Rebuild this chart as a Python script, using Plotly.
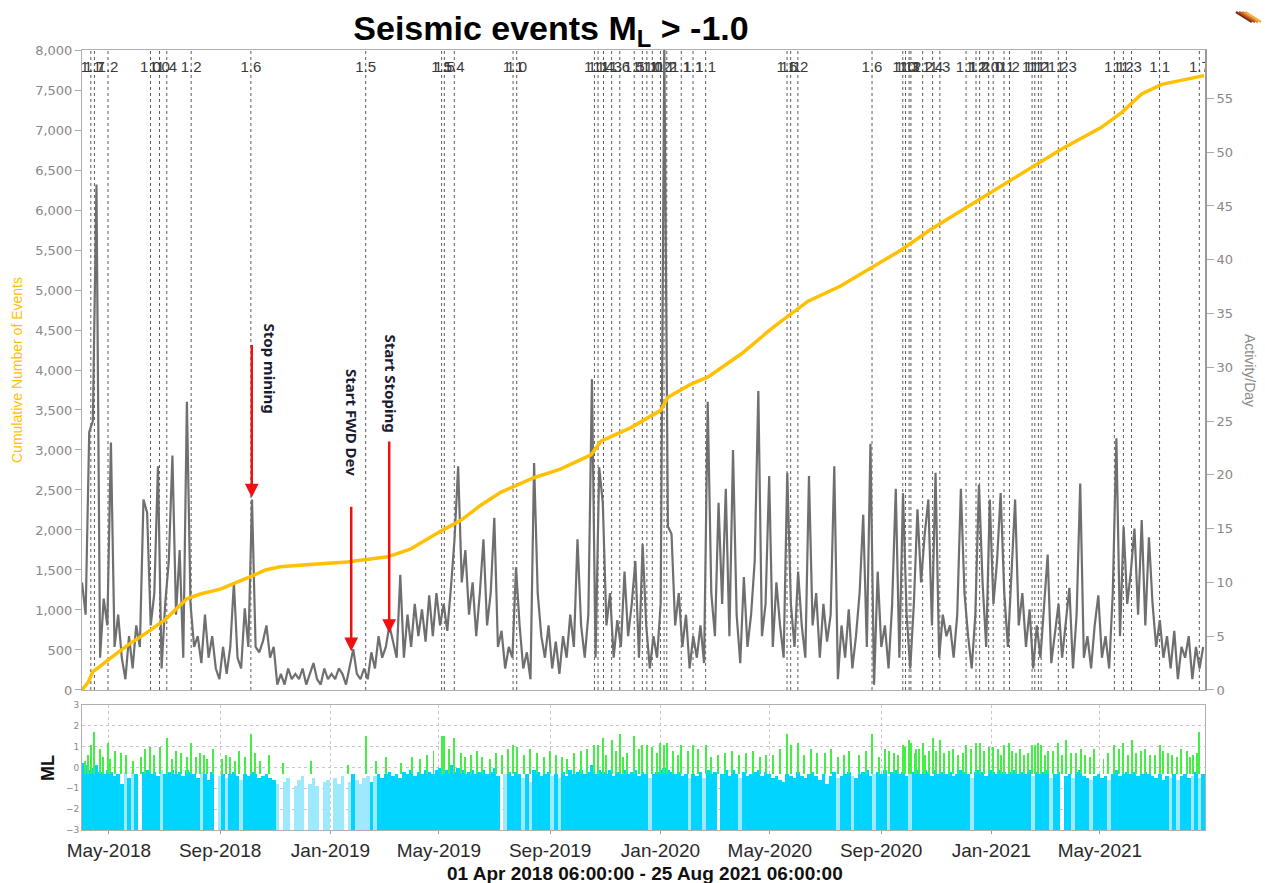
import pandas as pd
import plotly.graph_objects as go

START = "2018-04-01 06:00"
END = "2021-08-25 06:00"
STEP_DAYS = 4

# Activity per day (4-day samples from start)
activity = [
    10, 7, 24, 25, 47, 3, 8.5, 6, 23, 4,
    7, 3, 1, 5, 2, 6, 4, 17.7, 16.5, 6,
    9, 20.8, 2, 8, 12, 21.8, 7, 13, 3, 26.8,
    8, 4, 5, 2.5, 7, 3, 5, 2, 1, 4,
    1.5, 4, 10, 3, 2, 7.6, 4, 17.7, 4, 3.5,
    4.5, 6, 3, 4, 0.5, 1.5, 0.5, 2, 1, 1.5,
    1, 2, 0.5, 1.5, 2.5, 1, 0.5, 2, 1, 1.5,
    1, 2, 1.5, 0.5, 2, 3.8, 1.5, 1, 2, 1,
    3.5, 2, 5, 3, 4, 6, 4.5, 3, 10.7, 3,
    7, 4, 8, 5, 7.5, 4.5, 8.8, 5, 9, 6,
    8, 5.5, 9.5, 14, 20.8, 10, 13, 7, 10, 5,
    9, 14, 6, 9, 16, 4, 5.5, 2, 4, 3,
    11.4, 6, 2, 3.5, 1, 21.1, 9, 5, 3, 6,
    2, 4.5, 1.5, 5, 3, 7, 4, 14, 6, 3,
    7, 28.9, 3, 20.7, 17.4, 6, 9, 3, 6.5, 4,
    11, 5, 8, 12, 3, 13.6, 6, 2, 5, 3,
    8, 60, 15.2, 14.5, 6, 9, 4, 7, 2, 5,
    3, 6, 2.5, 26.8, 9, 5, 17.4, 8, 18.7, 5,
    22.3, 7, 2.5, 10.5, 4, 7, 12, 27.8, 5, 8,
    19.9, 4, 10, 6, 3, 20.2, 8, 4, 11, 6,
    3, 19.9, 6, 9, 3, 8, 4.5, 7, 20.8, 1,
    6, 3, 7.5, 2, 5, 9, 16.3, 4, 22.9, 0.5,
    11, 4, 6, 2, 8, 18.7, 3, 18.3, 7, 2,
    8, 16.8, 10, 14.5, 17.7, 6, 20.2, 3, 7, 5,
    6, 3, 7, 18.7, 9, 5, 2, 7, 19.1, 10,
    4, 17.7, 8, 12, 18.3, 9, 4, 11, 17.7, 6,
    9, 4, 7.5, 2, 6, 3, 8, 12.6, 2.5, 5,
    8, 3, 6, 9.5, 2, 7, 19.2, 3, 5, 2,
    6, 8.8, 3, 5, 2, 9, 23.4, 5, 15.2, 8,
    11, 15, 7, 15.8, 6, 14.2, 8, 4, 6.5, 3,
    5, 2, 5.5, 1, 4, 3, 5, 1, 4, 2, 4,
]

# Upper level of the dense (cyan) ML band per 4-day bin (-3 = no events)
cyan_top = [
    0.2, 0.1, -0.1, 0.0, 0.1, -0.2, -0.3, -0.1, -0.2, -0.4,
    -0.3, -0.8, -0.2, -0.5, -0.1, -0.3, -3, -0.2, -0.1, -0.3,
    -0.2, -0.4, -0.1, -0.3, -0.2, -0.1, -0.3, -0.2, -0.4, -0.1,
    -0.2, -0.3, -0.5, -0.2, -0.3, -0.6, -0.2, -3, -0.4, -0.3,
    -0.5, -0.3, -0.2, -0.4, -0.6, -0.3, -0.4, -0.2, -0.3, -0.5,
    -0.4, -0.3, -0.5, -0.6, -0.8, -3, -0.7, -0.5, -3, -0.9,
    -0.6, -0.4, -3, -0.8, -0.5, -0.9, -3, -0.7, -0.6, -3,
    -0.5, -0.8, -0.4, -3, -0.7, -0.3, -0.6, -0.8, -0.5, -0.4,
    -0.7, -0.4, -0.3, -0.5, -0.3, -0.2, -0.4, -0.3, -0.5, -0.2,
    -0.3, -0.1, -0.4, -0.2, -0.3, -0.1, -0.2, -0.3, -0.1, 0.0,
    -0.2, -0.1, 0.1, -0.2, 0.0, -0.1, -0.3, -0.2, -0.1, -0.3,
    -0.2, -0.1, -0.3, -0.2, 0.0, -0.4, -3, -0.3, -0.2, -0.4,
    -0.2, -0.3, -0.5, -0.3, -0.7, -0.1, -0.2, -0.4, -0.3, -0.2,
    -0.4, -0.3, -0.5, -0.2, -0.4, -0.1, -0.3, -0.2, -0.1, -0.3,
    -0.2, 0.1, -0.3, -0.1, -0.2, -0.3, -0.1, -0.4, -0.2, -0.3,
    -0.1, -0.3, -0.2, -0.1, -0.4, -0.2, -0.3, -0.5, -0.3, -0.2,
    -0.1, 0.0, -0.1, -0.2, -0.3, -0.2, -0.4, -0.3, -0.5, -0.3,
    -0.4, -0.2, -0.5, -0.1, -0.3, -0.2, -3, -0.3, -0.1, -0.4,
    -0.1, -0.3, -0.5, -0.2, -0.4, -0.3, -0.2, -0.1, -0.4, -0.2,
    -0.3, -0.5, -0.4, -0.6, -0.7, -0.3, -0.4, -0.5, -0.2, -0.4,
    -0.5, -0.3, -0.2, -0.4, -0.6, -0.3, -0.8, -0.4, -0.2, -0.5,
    -0.4, -0.3, -0.2, -0.4, -0.5, -0.3, -0.2, -0.1, -0.4, -0.3,
    -0.2, -0.3, -0.1, -0.4, -0.2, -0.1, -0.3, -0.2, -0.4, -0.3,
    -0.2, -0.1, -0.3, -0.1, -0.2, -0.4, -0.1, -0.3, -0.2, -0.3,
    -0.2, -0.4, -0.3, -0.1, -0.2, -0.3, -0.5, -0.2, -0.1, -0.2,
    -0.4, -0.1, -0.2, -0.3, -0.1, -0.2, -0.3, -0.2, -0.1, -0.3,
    -0.2, -0.3, -0.1, -0.4, -0.2, -0.3, -0.2, -0.1, -0.5, -0.3,
    -0.2, -3, -0.4, -0.3, -0.5, -0.2, -0.1, -0.4, -0.5, -0.6,
    -0.4, -0.3, -0.5, -0.4, -0.6, -0.3, -0.1, -0.4, -0.3, -0.2,
    -0.3, -0.2, -0.4, -0.3, -0.2, -0.3, -0.4, -0.5, -0.3, -0.6,
    -0.4, -0.5, -0.3, -0.6, -0.4, -0.3, -0.5, -0.4, -0.2, -0.5, -0.3,
]

# Cumulative number of events (days since start, count)
cum_days = [0, 7, 12, 17, 34, 53, 72, 92, 116, 131, 153, 175, 189, 203, 219, 252,
            293, 338, 363, 396, 419, 441, 463, 499, 529, 563, 574, 607, 640, 648,
            673, 692, 729, 765, 803, 839, 873, 906, 939, 972, 1017, 1050, 1083,
            1127, 1150, 1172, 1194, 1241]
cum_values = [0, 100, 230, 270, 420, 580, 720, 880, 1140, 1200, 1260, 1360, 1430,
              1500, 1540, 1570, 1600, 1665, 1760, 1980, 2120, 2310, 2470, 2650,
              2760, 2940, 3110, 3280, 3495, 3660, 3820, 3910, 4200, 4540, 4860,
              5050, 5280, 5500, 5760, 5990, 6310, 6540, 6760, 7030, 7220, 7450,
              7570, 7680]

# Large events (ML >= 1.0) marked at the top
big_dates = ["2018-04-11", "2018-04-15", "2018-04-30", "2018-06-16", "2018-06-26",
             "2018-07-04", "2018-07-31", "2018-10-05", "2019-02-09", "2019-05-04",
             "2019-05-07", "2019-05-18", "2019-07-22", "2019-07-26", "2019-10-20",
             "2019-10-24", "2019-10-30", "2019-11-08", "2019-11-17", "2019-12-03",
             "2019-12-12", "2019-12-17", "2019-12-23", "2020-01-01", "2020-01-05",
             "2020-01-08", "2020-01-24", "2020-02-06", "2020-02-20", "2020-05-20",
             "2020-05-24", "2020-06-01", "2020-08-22", "2020-09-25", "2020-09-28",
             "2020-10-02", "2020-10-04", "2020-10-17", "2020-10-28", "2020-11-05",
             "2020-12-04", "2020-12-15", "2020-12-19", "2020-12-29", "2021-01-03",
             "2021-01-15", "2021-01-21", "2021-02-15", "2021-02-18", "2021-02-22",
             "2021-02-25", "2021-03-16", "2021-03-25", "2021-05-17", "2021-05-27",
             "2021-06-05", "2021-07-06", "2021-08-19"]
big_ml = [1.1, 1.7, 1.2, 1.0, 1.0, 1.4, 1.2, 1.6, 1.5, 1.5,
          1.5, 1.4, 1.1, 1.0, 1.1, 1.1, 1.4, 1.3, 1.6, 1.5,
          1.1, 1.1, 1.0, 1.2, 1.1, 1.2, 1.1, 1.1, 1.1, 1.6,
          1.1, 1.2, 1.6, 1.1, 1.0, 1.3, 1.2, 1.2, 1.4, 1.3,
          1.1, 1.2, 1.2, 1.0, 1.0, 1.1, 1.2, 1.1, 1.1, 1.2,
          1.1, 1.2, 1.3, 1.1, 1.2, 1.3, 1.1, 1.7]

# Medium events (green tips in the ML panel)
mid_dates = ["2018-04-05", "2018-04-21", "2018-04-25", "2018-05-08", "2018-05-20",
             "2018-05-28", "2018-06-05", "2018-06-10", "2018-07-10", "2018-07-20",
             "2018-08-05", "2018-08-14", "2018-08-24", "2018-09-03", "2018-09-12",
             "2018-09-22", "2018-10-15", "2018-10-25", "2018-11-10", "2018-12-10",
             "2019-01-20", "2019-03-03", "2019-03-20", "2019-04-10", "2019-04-25",
             "2019-05-25", "2019-06-05", "2019-06-18", "2019-07-03", "2019-08-10",
             "2019-08-25", "2019-09-08", "2019-09-20", "2019-10-05", "2019-11-25",
             "2019-12-08", "2020-01-15", "2020-02-12", "2020-03-05", "2020-03-20",
             "2020-04-05", "2020-04-20", "2020-05-05", "2020-06-15", "2020-07-01",
             "2020-07-15", "2020-07-28", "2020-08-08", "2020-09-05", "2020-09-15",
             "2020-10-10", "2020-10-24", "2020-11-15", "2020-11-25", "2020-12-09",
             "2021-01-08", "2021-01-28", "2021-02-06", "2021-03-05", "2021-04-05",
             "2021-04-15", "2021-04-25", "2021-05-05", "2021-06-15", "2021-06-25",
             "2021-07-15", "2021-07-25", "2021-08-05", "2021-08-12",
             "2018-04-08", "2018-05-02", "2018-05-14", "2018-06-20", "2018-07-14",
             "2018-07-26", "2018-08-10", "2018-08-18", "2018-09-07", "2018-09-17",
             "2018-09-28", "2018-10-10", "2019-02-20", "2019-04-01", "2019-04-18",
             "2019-05-12", "2019-05-30", "2019-06-12", "2019-06-26", "2019-07-10",
             "2019-07-16", "2019-08-03", "2019-08-17", "2019-09-01", "2019-09-14",
             "2019-09-27", "2019-10-12", "2019-11-02", "2019-11-13", "2019-11-21",
             "2019-12-28", "2020-01-20", "2020-02-01", "2020-02-26", "2020-03-12",
             "2020-03-28", "2020-04-12", "2020-04-27", "2020-05-12", "2020-06-08",
             "2020-06-22", "2020-07-08", "2020-07-22", "2020-08-15", "2020-08-30",
             "2020-09-10", "2020-09-20", "2020-10-08", "2020-10-13", "2020-10-20",
             "2020-11-01", "2020-11-10", "2020-11-20", "2020-12-01", "2020-12-24",
             "2021-01-12", "2021-01-24", "2021-02-02", "2021-02-11", "2021-03-01",
             "2021-03-10", "2021-03-20", "2021-03-30", "2021-04-10", "2021-04-20",
             "2021-05-10", "2021-05-22", "2021-06-01", "2021-06-10", "2021-06-20",
             "2021-07-01", "2021-07-10", "2021-07-20", "2021-07-30", "2021-08-09",
             "2021-08-16"]
mid_ml = [0.3, 0.9, 0.5, 0.8, 0.6, 0.3, 0.5, 0.9, 0.4, 0.7,
          0.5, 0.6, 0.9, 0.4, 0.5, 0.8, 0.3, 0.6, 0.2, 0.3,
          0.1, 0.5, 0.2, 0.4, 0.8, 0.7, 0.6, 0.5, 0.7, 0.9,
          0.5, 0.6, 0.4, 0.8, 0.7, 0.9, 0.8, 0.9, 0.6, 0.8,
          0.7, 0.5, 0.6, 0.9, 0.7, 0.5, 0.8, 0.6, 0.9, 0.7,
          0.9, 0.8, 0.8, 0.6, 0.9, 0.9, 0.7, 0.6, 0.8, 0.7,
          0.6, 0.9, 0.4, 0.8, 0.6, 0.7, 0.5, 0.8, 0.6,
          0.6, 0.4, 0.7, 0.6, 0.8, 0.5, 0.7, 0.4, 0.6, 0.3,
          0.5, 0.7, 0.3, 0.5, 0.6, 0.9, 0.5, 0.8, 0.4, 0.6,
          0.9, 0.6, 0.7, 0.8, 0.5, 0.7, 0.9, 0.6, 0.8, 0.5,
          0.7, 0.6, 0.8, 0.5, 0.7, 0.6, 0.8, 0.6, 0.9, 0.6,
          0.7, 0.9, 0.6, 0.8, 0.5, 0.8, 0.6, 0.7, 0.9, 0.6,
          0.8, 0.7, 0.9, 0.7, 0.8, 0.6, 0.8, 0.9, 0.7, 0.6,
          0.8, 0.6, 0.7, 0.9, 0.5, 0.7, 0.9, 0.6, 0.7, 0.9,
          0.6, 0.8, 0.6, 0.9, 0.5, 0.7]

# Annotated operational changes
note_labels = ["Stop mining", "Start FWD Dev", "Start Stoping"]
note_tip_dates = ["2018-10-06", "2019-01-24", "2019-03-07"]
note_tip_values = [17.9, 3.6, 5.3]
note_tail_px = [-154, -146, -193]
note_text_dates = ["2018-10-26", "2019-01-25", "2019-03-09"]
note_text_values = [29.9, 24.9, 28.5]

ACT_MAX = 59.5
LABEL_Y = 57.8

t0 = pd.Timestamp(START)
grid = [t0 + pd.Timedelta(days=STEP_DAYS * i) for i in range(len(activity))]
cum_x = [t0 + pd.Timedelta(days=d) for d in cum_days]

fig = go.Figure()

# event lines
ev_x, ev_y = [], []
for d in big_dates:
    ev_x += [d, d, None]
    ev_y += [0, ACT_MAX, None]
fig.add_trace(go.Scatter(x=ev_x, y=ev_y, mode="lines", xaxis="x", yaxis="y",
                         line=dict(color="rgba(50,50,50,0.8)", width=1, dash="dot"),
                         hoverinfo="skip", showlegend=False))
fig.add_trace(go.Scatter(x=big_dates, y=[LABEL_Y] * len(big_dates), mode="text",
                         text=[f"{m:.1f}" for m in big_ml], xaxis="x", yaxis="y",
                         textfont=dict(family="Liberation Sans", size=15, color="#3a3a3a"),
                         cliponaxis=True, showlegend=False))
# activity per day
fig.add_trace(go.Scatter(x=grid, y=activity, mode="lines", xaxis="x", yaxis="y",
                         line=dict(color="#6f6f6f", width=2.2), showlegend=False))
# cumulative
fig.add_trace(go.Scatter(x=cum_x, y=cum_values, mode="lines", xaxis="x", yaxis="y2",
                         line=dict(color="#FFC000", width=3.5), showlegend=False))

# ML panel
cyan_colors = ["#9fe9ff" if a < 3 else "#00d4ff" for a in activity]
fig.add_trace(go.Bar(x=grid, y=[c + 3 for c in cyan_top], base=-3, xaxis="x2", yaxis="y3",
                     width=STEP_DAYS * 86400000, marker=dict(color=cyan_colors, line=dict(width=0)),
                     showlegend=False))
g_dates = mid_dates + big_dates
g_ml = mid_ml + big_ml
fig.add_trace(go.Bar(x=g_dates, y=[m + 0.3 for m in g_ml], base=-0.3, xaxis="x2", yaxis="y3",
                     width=1.1 * 86400000, marker=dict(color="#44ee44", line=dict(width=0)),
                     showlegend=False))

annotations = []
for lab, td, tv, tail, xd, xv in zip(note_labels, note_tip_dates, note_tip_values,
                                     note_tail_px, note_text_dates, note_text_values):
    annotations.append(dict(x=td, y=tv, xref="x", yref="y", text="", showarrow=True,
                            ax=0, ay=tail, arrowhead=2, arrowsize=1.1, arrowwidth=2.5,
                            arrowcolor="#ee1111"))
    annotations.append(dict(x=xd, y=xv, xref="x", yref="y", text=f"<b>{lab}</b>",
                            showarrow=False, textangle=90,
                            font=dict(family="Noto Sans", size=15, color="#1c1c30")))

pixel_texts = [
    dict(x=17, y=370, text="Cumulative Number of Events", textangle=-90,
         font=dict(family="Liberation Sans", size=14, color="#FFC000")),
    dict(x=1250, y=370, text="Activity/Day", textangle=90,
         font=dict(family="Liberation Sans", size=14, color="#8a8a8a")),
    dict(x=48, y=768, text="<b>ML</b>", textangle=-90,
         font=dict(family="Liberation Sans", size=18, color="#111")),
    dict(x=645, y=873, text="<b>01 Apr 2018 06:00:00 - 25 Aug 2021 06:00:00</b>",
         textangle=0, font=dict(family="Liberation Sans", size=19, color="#111")),
]
L, R, T, B = 82, 60, 50, 53
W, H = 1265, 883
pw, ph = W - L - R, H - T - B
for a in pixel_texts:
    annotations.append(dict(x=(a["x"] - L) / pw, y=(H - B - a["y"]) / ph,
                            xref="paper", yref="paper", xanchor="center", yanchor="middle",
                            text=a["text"], textangle=a["textangle"], font=a["font"],
                            showarrow=False))

tickfont_y = dict(family="DejaVu Sans", size=13, color="#888888")
fig.update_layout(
    width=W, height=H,
    margin=dict(l=L, r=R, t=T, b=B),
    paper_bgcolor="white", plot_bgcolor="white",
    barmode="overlay", bargap=0,
    title=dict(text="<b>Seismic events M<sub>L</sub> > -1.0</b>",
               x=551 / W, xanchor="center", xref="container",
               y=1 - 28 / H, yanchor="middle", yref="container",
               font=dict(family="Liberation Sans", size=34, color="#000")),
    xaxis=dict(domain=[0, 1], anchor="y", type="date", range=[START, END],
               showticklabels=False, showgrid=False, showline=True, mirror=True,
               linecolor="#b0b0b0", linewidth=1, ticks=""),
    yaxis=dict(domain=[0.1795, 1], anchor="x", side="right", range=[0, ACT_MAX],
               dtick=5, tick0=0, showgrid=False, zeroline=False, showline=True,
               linecolor="#9a9a9a", linewidth=2, ticks="outside", ticklen=7,
               tickcolor="#aaa", tickfont=tickfont_y),
    yaxis2=dict(overlaying="y", side="left", anchor="x", range=[0, 8000], dtick=500,
                tickformat=",", showgrid=False, zeroline=False, showline=True,
                linecolor="#b0b0b0", linewidth=1, ticks="outside", ticklen=6,
                tickcolor="#aaa", tickfont=tickfont_y),
    xaxis2=dict(domain=[0, 1], anchor="y3", type="date", range=[START, END],
                tick0="2018-01-01", dtick="M4", tickformat="%b-%Y",
                showgrid=True, gridcolor="#c8c8c8", griddash="dot", gridwidth=1,
                showline=True, mirror=True, linecolor="#b0b0b0", ticks="outside",
                ticklen=3, tickcolor="#999",
                tickfont=dict(family="Liberation Sans", size=19, color="#2a2a2a")),
    yaxis3=dict(domain=[0, 0.1603], anchor="x2", range=[-3, 3], dtick=1,
                showgrid=True, gridcolor="#c8c8c8", griddash="dot", zeroline=False,
                showline=True, mirror=True, linecolor="#b0b0b0", ticks="",
                tickfont=dict(family="DejaVu Sans", size=9, color="#888")),
    annotations=annotations,
)

# small decorative logo stripes at top right
for i, col in enumerate(["#7a2a10", "#b24a1c", "#d8772a", "#f0b040"]):
    fig.add_shape(type="line", xref="paper", yref="paper",
                  x0=(1236 + 3 * i - L) / pw, x1=(1252 + 3 * i - L) / pw,
                  y0=(H - B - 12) / ph, y1=(H - B - 22) / ph,
                  line=dict(color=col, width=2.5))

fig.write_html("out.html")
